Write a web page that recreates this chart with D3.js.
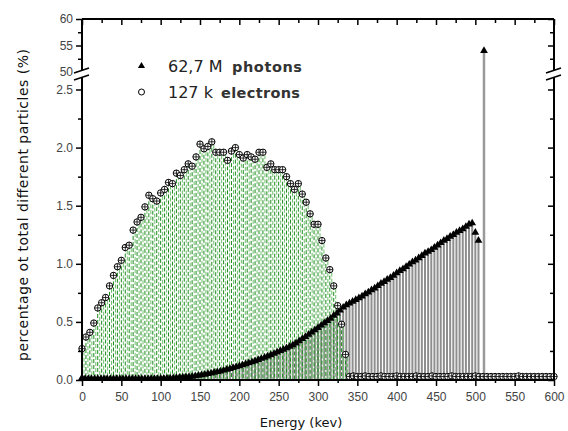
<!DOCTYPE html>
<html>
<head>
<meta charset="utf-8">
<script src="https://cdn.jsdelivr.net/npm/d3@7"></script>
<style>
  body { margin: 0; background: #fff; }
  svg { display: block; font-family: "DejaVu Sans", Verdana, sans-serif; }
  .tick text { fill: #444; font-size: 12px; }
  .tick line { stroke: #000; stroke-width: 1.5; }
</style>
</head>
<body>
<div id="chart"></div>
<script>

// photons, 4 keV bins (percent)
var photonEnergy = [0,4,8,12,16,20,24,28,32,36,40,44,48,52,56,60,64,68,72,76,80,84,
  88,92,96,100,104,108,112,116,120,124,128,132,136,140,144,148,152,156,160,164,168,172,176,180,184,188,192,196,
  200,204,208,212,216,220,224,228,232,236,240,244,248,252,256,260,264,268,272,
  276,280,284,288,292,296,300,304,308,312,316,320,324,328,332,336,
  340,344,348,352,356,360,364,368,372,376,380,384,388,392,396,400,404,408,412,416,420,424,428,432,436,440,
  444,448,452,456,460,464,468,472,476,480,484,488,492,496,500,504];
var photonValue = [0.02,0.01,0.01,0.01,0.01,0.01,0.01,0.01,0.01,0.01,0.01,0.01,0.01,0.01,0.01,0.01,0.01,0.01,0.01,0.01,0.01,0.01,
  0.012,0.012,0.012,0.013,0.014,0.015,0.016,0.017,0.019,0.021,0.023,0.025,0.028,0.031,0.035,0.039,0.043,0.048,0.053,0.058,0.064,0.07,0.076,0.083,0.09,0.097,0.105,0.113,
  0.121,0.129,0.137,0.146,0.155,0.164,0.174,0.184,0.194,0.205,0.216,0.227,0.239,0.251,0.263,0.276,0.289,0.302,0.316,
  0.335,0.354,0.373,0.392,0.411,0.43,0.45,0.47,0.49,0.51,0.53,0.555,0.575,0.6,0.625,0.645,
  0.66,0.675,0.69,0.705,0.72,0.74,0.755,0.775,0.79,0.81,0.83,0.845,0.865,0.88,0.9,0.92,0.94,0.955,0.975,0.995,1.015,1.03,1.05,1.07,1.09,1.105,
  1.12,1.14,1.16,1.18,1.2,1.215,1.235,1.25,1.27,1.285,1.3,1.32,1.34,1.35,1.27,1.2];

// annihilation peak
var peakEnergy = [511];
var peakValue = [54];

// electrons, 5 keV bins (percent)
var electronEnergy = [0,5,10,15,20,25,30,35,40,45,50,55,60,65,70,75,80,85,90,95,
  100,105,110,115,120,125,130,135,140,145,150,155,160,165,170,175,180,185,190,195,
  200,205,210,215,220,225,230,235,240,245,250,255,260,265,270,275,280,285,290,295,
  300,305,310,315,320,325,330,335,
  340,345,350,355,360,365,370,375,380,385,390,395,400,405,410,415,420,425,430,435,
  440,445,450,455,460,465,470,475,480,485,490,495,500,505,510,515,520,525,530,535,
  540,545,550,555,560,565,570,575,580,585,590,595,600];
var electronValue = [0.27,0.37,0.41,0.49,0.62,0.665,0.71,0.81,0.9,0.975,1.03,1.14,1.16,1.29,1.36,1.4,1.49,1.59,1.56,1.54,
  1.61,1.64,1.7,1.69,1.78,1.76,1.81,1.86,1.84,1.92,2.03,1.99,2.01,2.05,1.96,1.96,1.96,1.89,1.97,2.0,
  1.94,1.91,1.94,1.92,1.9,1.96,1.96,1.83,1.86,1.81,1.81,1.81,1.75,1.69,1.64,1.69,1.6,1.53,1.43,1.34,
  1.34,1.2,1.05,0.95,0.81,0.64,0.48,0.22,
  0.03,0.035,0.03,0.03,0.035,0.03,0.03,0.03,0.035,0.03,0.03,0.03,0.035,0.03,0.03,0.03,0.03,0.035,0.03,0.03,
  0.03,0.035,0.03,0.03,0.03,0.03,0.035,0.03,0.03,0.03,0.03,0.03,0.035,0.03,0.03,0.03,0.03,0.03,0.03,0.03,
  0.03,0.03,0.03,0.035,0.03,0.03,0.03,0.03,0.03,0.03,0.03,0.03,0.03];

var xTicks = [0,50,100,150,200,250,300,350,400,450,500,550,600];
var xMinor = [25,75,125,175,225,275,325,375,425,475,525,575];
var yLowTicks = [0,0.5,1.0,1.5,2.0,2.5];
var yLowMinor = [0.25,0.75,1.25,1.75,2.25];
var yHighTicks = [50,55,60];
var yHighMinor = [52.5,57.5];

var legendItems = [
  { count: '62,7 M', name: 'photons' },
  { count: '127 k', name: 'electrons' }
];

(function draw() {

  var svg = d3.select('#chart').append('svg')
      .attr('width', 568)
      .attr('height', 431);

  var x = d3.scaleLinear().domain([0, 600]).range([82, 554]);
  var yLow = d3.scaleLinear().domain([0, 2.5]).range([380, 89.5]);
  var yHigh = d3.scaleLinear().domain([50, 60]).range([72, 19]);
  function y(v) { return v > 2.5 ? yHigh(v) : yLow(v); }

  var photons = photonEnergy.map(function (e, i) { return { e: e, v: photonValue[i] }; });
  var peak = peakEnergy.map(function (e, i) { return { e: e, v: peakValue[i] }; });
  var electrons = electronEnergy.map(function (e, i) { return { e: e, v: electronValue[i] }; });

  // photon drop lines
  svg.append('g')
    .selectAll('line')
      .data(photons)
      .enter()
    .append('line')
      .attr('x1', function (d) { return x(d.e); })
      .attr('x2', function (d) { return x(d.e); })
      .attr('y1', yLow(0))
      .attr('y2', function (d) { return y(d.v); })
      .attr('stroke', '#8e8e8e')
      .attr('stroke-width', 2);

  svg.append('g')
    .selectAll('line')
      .data(peak)
      .enter()
    .append('line')
      .attr('x1', function (d) { return x(d.e); })
      .attr('x2', function (d) { return x(d.e); })
      .attr('y1', yLow(0))
      .attr('y2', function (d) { return y(d.v); })
      .attr('stroke', '#9a9a9a')
      .attr('stroke-width', 2.5);

  // electron drop lines (dashed green pairs), dashes start at the point
  var eDrop = svg.append('g')
    .selectAll('g')
      .data(electrons)
      .enter()
    .append('g');

  eDrop.append('line')
      .attr('x1', function (d) { return x(d.e); })
      .attr('x2', function (d) { return x(d.e); })
      .attr('y1', function (d) { return y(d.v); })
      .attr('y2', yLow(0))
      .attr('stroke', '#1a8a1a')
      .attr('stroke-width', 1)
      .attr('stroke-dasharray', '4,2');

  eDrop.append('line')
      .attr('x1', function (d) { return x(d.e) + 2; })
      .attr('x2', function (d) { return x(d.e) + 2; })
      .attr('y1', function (d) { return y(d.v) + 3; })
      .attr('y2', yLow(0))
      .attr('stroke', '#6cbf6c')
      .attr('stroke-width', 1)
      .attr('stroke-dasharray', '4,2');

  // photon markers
  var tri = d3.symbol().type(d3.symbolTriangle).size(26);

  svg.append('g')
    .selectAll('path')
      .data(photons.concat(peak))
      .enter()
    .append('path')
      .attr('d', tri)
      .attr('transform', function (d) { return 'translate(' + x(d.e) + ',' + y(d.v) + ')'; })
      .attr('fill', '#000');

  // electron markers
  var eMark = svg.append('g')
    .selectAll('g')
      .data(electrons)
      .enter()
    .append('g')
      .attr('transform', function (d) { return 'translate(' + x(d.e) + ',' + y(d.v) + ')'; });

  eMark.append('circle')
      .attr('r', 3.2)
      .attr('fill', '#fff')
      .attr('stroke', '#000')
      .attr('stroke-width', 1);

  eMark.append('path')
      .attr('d', 'M-3.2,0H3.2M0,-3.2V3.2')
      .attr('stroke', '#000')
      .attr('stroke-width', 0.8);

  // axes
  function style(g) {
    g.select('.domain').remove();
  }

  svg.append('g')
      .attr('transform', 'translate(0,380)')
      .call(d3.axisBottom(x).tickValues(xTicks).tickSize(6).tickPadding(6))
      .call(style);
  svg.append('g')
      .attr('transform', 'translate(0,380)')
      .call(d3.axisBottom(x).tickValues(xMinor).tickSize(3).tickFormat(''))
      .call(style);
  svg.append('g')
      .attr('transform', 'translate(0,19)')
      .call(d3.axisTop(x).tickValues(xTicks).tickSize(-6).tickFormat(''))
      .call(style);
  svg.append('g')
      .attr('transform', 'translate(0,19)')
      .call(d3.axisTop(x).tickValues(xMinor).tickSize(-4).tickFormat(''))
      .call(style);

  [[yLow, yLowTicks, yLowMinor, d3.format('.1f')], [yHigh, yHighTicks, yHighMinor, d3.format('d')]].forEach(function (s) {
    svg.append('g')
        .attr('transform', 'translate(82,0)')
        .call(d3.axisLeft(s[0]).tickValues(s[1]).tickSize(6).tickPadding(3).tickFormat(s[3]))
        .call(style);
    svg.append('g')
        .attr('transform', 'translate(82,0)')
        .call(d3.axisLeft(s[0]).tickValues(s[2]).tickSize(4).tickFormat(''))
        .call(style);
    svg.append('g')
        .attr('transform', 'translate(554,0)')
        .call(d3.axisRight(s[0]).tickValues(s[1]).tickSize(-6).tickFormat(''))
        .call(style);
    svg.append('g')
        .attr('transform', 'translate(554,0)')
        .call(d3.axisRight(s[0]).tickValues(s[2]).tickSize(-4).tickFormat(''))
        .call(style);
  });

  // frame
  var frame = svg.append('g')
      .attr('stroke', '#000')
      .attr('stroke-width', 2)
      .attr('fill', 'none');
  frame.append('line').attr('x1', x(0)).attr('x2', x(600)).attr('y1', yLow(0)).attr('y2', yLow(0));
  frame.append('line').attr('x1', x(0)).attr('x2', x(600)).attr('y1', yHigh(60)).attr('y2', yHigh(60));
  frame.append('line').attr('x1', x(0)).attr('x2', x(0)).attr('y1', yHigh(60)).attr('y2', yLow(0));
  frame.append('line').attr('x1', x(600)).attr('x2', x(600)).attr('y1', yHigh(60)).attr('y2', yLow(0));

  // axis break marks
  [x(0), x(600)].forEach(function (xa) {
    var yb = yHigh(50);
    svg.append('path')
        .attr('d', 'M' + (xa - 8) + ',' + (yb + 1) + 'L' + (xa + 7) + ',' + (yb - 4) +
          'L' + (xa + 7) + ',' + (yb + 3) + 'L' + (xa - 8) + ',' + (yb + 8) + 'Z')
        .attr('fill', '#fff');
    svg.append('path')
        .attr('d', 'M' + (xa - 8) + ',' + (yb + 1) + 'L' + (xa + 7) + ',' + (yb - 4) +
          'M' + (xa - 8) + ',' + (yb + 8) + 'L' + (xa + 7) + ',' + (yb + 3))
        .attr('stroke', '#000')
        .attr('stroke-width', 1.6)
        .attr('fill', 'none');
  });

  // axis titles
  svg.append('text')
      .attr('x', 301)
      .attr('y', 427)
      .attr('text-anchor', 'middle')
      .attr('font-size', 13)
      .attr('fill', '#111')
      .text('Energy (kev)');

  svg.append('text')
      .attr('transform', 'translate(28,205) rotate(-90)')
      .attr('text-anchor', 'middle')
      .attr('font-size', 14)
      .attr('fill', '#111')
      .attr('textLength', 312)
      .attr('lengthAdjust', 'spacing')
      .text('percentage ot total different particles (%)');

  // legend
  var legend = svg.append('g');

  legend.append('path')
      .attr('d', d3.symbol().type(d3.symbolTriangle).size(22))
      .attr('transform', 'translate(141.5,66)')
      .attr('fill', '#000');
  legend.append('circle')
      .attr('cx', 141.5)
      .attr('cy', 92)
      .attr('r', 3)
      .attr('fill', '#fff')
      .attr('stroke', '#000');

  legend.selectAll('text.count')
      .data(legendItems)
      .enter()
    .append('text')
      .attr('class', 'count')
      .attr('x', 168)
      .attr('y', function (d, i) { return 72 + i * 26; })
      .attr('font-size', 16)
      .attr('fill', '#222')
      .text(function (d) { return d.count; });

  legend.selectAll('text.name')
      .data(legendItems)
      .enter()
    .append('text')
      .attr('class', 'name')
      .attr('x', function (d, i) { return i === 0 ? 232 : 221; })
      .attr('y', function (d, i) { return 72 + i * 26; })
      .attr('font-size', 14.5)
      .attr('font-weight', 'bold')
      .attr('fill', '#333')
      .attr('textLength', function (d, i) { return i === 0 ? 70 : 79; })
      .attr('lengthAdjust', 'spacing')
      .text(function (d) { return d.name; });
})();
</script>
</body>
</html>
